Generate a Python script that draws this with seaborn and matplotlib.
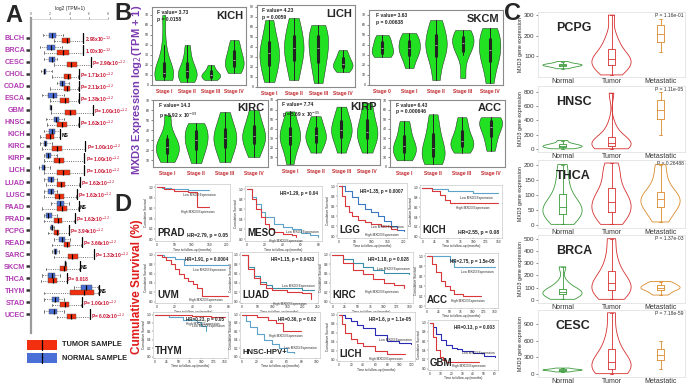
import numpy as np
import pandas as pd
import seaborn as sns
import matplotlib.pyplot as plt
from matplotlib.patches import Rectangle

W, H = 689, 385

sns.set_theme(style="white")
plt.rcParams['font.family'] = ['Liberation Sans', 'DejaVu Sans']

# A. five-number summaries (min, q1, median, q3, max), log2(TPM+1)
cancers_a = ["BLCH", "BRCA", "CESC", "CHOL", "COAD", "ESCA", "GBM", "HNSC", "KICH", "KIRC", "KIRP", "LICH",
             "LUAD", "LUSC", "PAAD", "PRAD", "PCPG", "READ", "SARC", "SKCM", "THCA", "THYM", "STAD", "UCEC"]
normal_a = [
    [1.2, 1.9, 2.2, 2.6, 3.3], [0.9, 1.7, 2.1, 2.5, 3.2], [1.4, 1.9, 2.2, 2.5, 2.7], [1.0, 1.3, 1.4, 1.6, 2.2],
    [2.7, 3.0, 3.2, 3.5, 3.9], [1.1, 1.8, 2.3, 2.7, 3.4], [2.0, 2.0, 2.05, 2.1, 2.1], [1.6, 2.4, 2.6, 2.9, 3.4],
    [1.4, 1.9, 2.2, 2.5, 3.0], [0.9, 1.3, 1.5, 1.7, 2.2], [1.3, 1.6, 1.8, 2.1, 2.7], [0.8, 1.1, 1.3, 1.5, 2.0],
    [1.4, 1.8, 2.1, 2.4, 2.7], [1.3, 1.8, 2.1, 2.4, 2.7], [2.1, 2.7, 3.0, 3.4, 3.9], [1.3, 1.6, 1.8, 2.2, 2.7],
    [2.0, 2.1, 2.2, 2.3, 2.4], [2.4, 2.9, 3.2, 3.5, 4.0], [2.2, 2.4, 2.5, 2.7, 2.9], [3.5, 3.5, 3.55, 3.6, 3.6],
    [1.1, 1.8, 2.2, 2.5, 3.0], [4.5, 5.2, 5.7, 6.3, 7.0], [1.4, 2.2, 2.5, 2.9, 3.4], [1.3, 1.9, 2.4, 2.7, 3.4],
]
tumor_a = [
    [2.4, 3.2, 3.7, 4.1, 5.4], [1.3, 2.7, 3.3, 3.9, 5.4], [2.4, 3.7, 4.2, 4.8, 6.2], [2.2, 3.4, 3.8, 4.2, 4.9],
    [2.0, 3.4, 3.7, 4.0, 4.9], [2.0, 3.0, 3.5, 3.9, 4.9], [2.1, 3.5, 4.1, 4.7, 6.4], [1.7, 2.7, 3.2, 3.7, 4.9],
    [0.9, 1.6, 2.0, 2.4, 3.0], [1.1, 2.2, 2.7, 3.2, 5.6], [1.4, 2.4, 2.9, 3.4, 5.5], [1.4, 2.7, 3.3, 4.0, 5.5],
    [1.6, 2.7, 3.1, 3.5, 5.0], [1.4, 2.5, 2.9, 3.4, 4.7], [1.1, 2.7, 3.2, 3.7, 4.9], [1.4, 2.4, 2.8, 3.2, 4.5],
    [1.8, 2.4, 2.7, 2.9, 3.9], [2.2, 3.4, 3.7, 4.0, 5.2], [2.4, 3.8, 4.3, 4.9, 6.5], [1.6, 3.0, 3.4, 3.7, 5.0],
    [1.0, 1.8, 2.3, 2.7, 3.7], [1.4, 4.0, 5.5, 6.5, 7.0], [2.2, 3.0, 3.5, 3.9, 5.2], [2.7, 3.7, 4.2, 4.7, 6.1],
]
pvals_a = ["2.98x10$^{-12}$", "1.00x10$^{-12}$", "P= 2.96x10$^{-12}$", "P= 1.71x10$^{-12}$", "P= 2.11x10$^{-12}$",
           "P= 1.38x10$^{-12}$", "P= 1.00x10$^{-12}$", "P= 1.62x10$^{-12}$", "NS", "P= 1.00x10$^{-12}$",
           "P= 1.00x10$^{-12}$", "P= 1.00x10$^{-12}$", "P= 1.62x10$^{-12}$", "P= 1.62x10$^{-12}$", "NS",
           "P= 1.62x10$^{-12}$", "P= 3.94x10$^{-12}$", "P= 3.66x10$^{-12}$", "P= 1.32x10$^{-12}$", "NS",
           "P= 0.018", "NS", "P= 1.00x10$^{-12}$", "P= 6.02x10$^{-12}$"]

# B. MXD3 by stage
stages4 = ["Stage I", "Stage II", "Stage III", "Stage IV"]
stages5 = ["Stage 0", "Stage I", "Stage II", "Stage III", "Stage IV"]
kich_b = [[5, 7, 9, 10, 12, 15, 22, 40, 70], [3, 6, 9, 12, 15, 20, 28, 40], [5, 7, 9, 10, 12, 15, 20], [12, 17, 21, 25, 30, 37, 45]]
lich_b = [[5, 18, 26, 34, 40, 50, 67], [7, 22, 32, 39, 46, 56, 69], [4, 20, 30, 39, 47, 55, 62], [15, 19, 21, 23, 27, 31, 37]]
skcm_b = [[28, 30, 34, 37, 41, 46, 50], [17, 28, 33, 37, 42, 47, 52], [5, 25, 34, 40, 45, 55, 65],
          [7, 30, 38, 42, 46, 50, 55], [2, 20, 28, 35, 43, 50, 57]]
kirc_b = [[8, 15, 20, 23, 28, 35, 55], [7, 18, 25, 30, 36, 42, 47], [8, 20, 27, 32, 38, 45, 58], [13, 24, 30, 34, 40, 48, 60]]
kirp_b = [[3, 20, 27, 32, 37, 45, 58], [15, 24, 29, 33, 37, 45, 53], [15, 28, 34, 39, 44, 52, 63], [15, 27, 33, 37, 44, 55, 67]]
acc_b = [[7, 13, 18, 22, 27, 38, 48], [3, 8, 14, 20, 28, 40, 55], [15, 20, 24, 27, 33, 42, 52], [17, 28, 36, 42, 47, 50, 52]]

# C. MXD3 gene expression, normal / tumor / metastatic
groups_c = ["Normal", "Tumor", "Metastatic"]
pcpg_c = [[40, 48, 52, 55, 57, 60, 62, 66, 75], [10, 30, 45, 60, 72, 80, 90, 105, 125, 160, 200, 300], [120, 170, 210, 250, 280]]
hnsc_c = [[5, 20, 30, 40, 50, 60, 80, 120], [5, 20, 35, 50, 60, 75, 90, 110, 150, 220, 350, 780], [200, 420, 540, 680, 800]]
thca_c = [[2, 20, 35, 45, 55, 65, 80, 110, 150, 200], [2, 25, 40, 55, 70, 85, 100, 130, 170, 205], [10, 40, 60, 75, 85, 95, 110, 150, 200]]
brca_c = [[5, 30, 45, 55, 62, 70, 90, 140, 270], [5, 40, 70, 100, 120, 150, 190, 250, 350, 500], [40, 70, 90, 100, 110, 130, 150]]
cesc_c = [[40, 60, 70, 75, 80, 90, 110], [10, 60, 100, 150, 220, 320, 450, 700, 1100], [100, 250, 350, 450, 600]]

# D. Kaplan-Meier curves (time in months, survival)
prad_low = ([0, 15, 40, 90, 150], [1.0, 0.98, 0.97, 0.95, 0.95])
prad_high = ([0, 20, 50, 90, 115, 150], [1.0, 0.97, 0.93, 0.9, 0.62, 0.62])
meso_low = ([0, 5, 10, 15, 20, 30, 40, 50, 60, 70, 80], [1, 0.85, 0.7, 0.55, 0.45, 0.3, 0.25, 0.2, 0.12, 0.08, 0.05])
meso_high = ([0, 5, 10, 15, 20, 25, 30, 40, 50, 55], [1, 0.8, 0.6, 0.45, 0.3, 0.2, 0.15, 0.1, 0.08, 0.05])
lgg_low = ([0, 20, 40, 60, 80, 100, 120, 140, 160, 180, 200], [1, 0.9, 0.78, 0.65, 0.55, 0.48, 0.4, 0.3, 0.2, 0.12, 0.1])
lgg_high = ([0, 10, 20, 30, 40, 60, 80, 100, 130, 160, 180], [1, 0.8, 0.6, 0.48, 0.4, 0.33, 0.28, 0.25, 0.2, 0.15, 0.12])
kich_low = ([0, 20, 50, 100, 150], [1, 0.97, 0.93, 0.9, 0.9])
kich_high = ([0, 20, 35, 45, 55, 150], [1, 0.93, 0.85, 0.75, 0.68, 0.68])
uvm_low = ([0, 8, 20, 30, 80], [1, 0.95, 0.9, 0.78, 0.78])
uvm_high = ([0, 5, 10, 15, 20, 25, 30, 35, 40, 45, 50, 80], [1, 0.95, 0.88, 0.8, 0.7, 0.6, 0.5, 0.45, 0.38, 0.3, 0.12, 0.12])
luad_low = ([0, 20, 40, 60, 80, 100, 150, 200, 240], [1, 0.75, 0.55, 0.42, 0.35, 0.3, 0.28, 0.25, 0.25])
luad_high = ([0, 20, 40, 60, 80, 100, 150, 200, 230], [1, 0.7, 0.5, 0.38, 0.3, 0.25, 0.2, 0.18, 0.05])
kirc_low = ([0, 20, 40, 60, 80, 100, 150], [1, 0.9, 0.82, 0.75, 0.68, 0.62, 0.6])
kirc_high = ([0, 20, 40, 60, 80, 100, 120, 140], [1, 0.82, 0.68, 0.58, 0.48, 0.4, 0.35, 0.3])
acc_low = ([0, 30, 50, 60, 150], [1, 1, 0.92, 0.78, 0.78])
acc_high = ([0, 10, 20, 30, 40, 50, 60, 80, 120], [1, 0.85, 0.68, 0.5, 0.4, 0.32, 0.25, 0.2, 0.2])
thym_low = ([0, 30, 60, 90, 100, 110], [1, 0.95, 0.88, 0.82, 0.72, 0.62])
thym_high = ([0, 40, 80, 120, 150], [1, 0.98, 0.96, 0.95, 0.95])
hnsc_low = ([0, 5, 10, 20, 30, 40, 50, 60, 70], [1, 0.85, 0.7, 0.55, 0.4, 0.3, 0.2, 0.12, 0.1])
hnsc_high = ([0, 20, 35, 45, 55, 80], [1, 0.95, 0.88, 0.8, 0.6, 0.6])
lich_low = ([0, 10, 20, 30, 40, 60, 80, 100, 120], [1, 0.92, 0.85, 0.78, 0.7, 0.55, 0.42, 0.38, 0.35])
lich_high = ([0, 5, 10, 20, 30, 40, 60, 80, 110], [1, 0.8, 0.6, 0.45, 0.38, 0.3, 0.2, 0.12, 0.12])
gbm_low = ([0, 3, 6, 10, 15, 20, 25, 30, 40, 50, 60], [1, 0.9, 0.75, 0.62, 0.52, 0.46, 0.42, 0.38, 0.33, 0.28, 0.25])
gbm_high = ([0, 3, 6, 9, 12, 15, 40, 45], [1, 0.7, 0.4, 0.25, 0.18, 0.14, 0.14, 0.14])

fig = plt.figure(figsize=(6.89, 3.85), dpi=100)


def px_axes(x0, y0, x1, y1):
    return fig.add_axes([x0 / W, 1 - y1 / H, (x1 - x0) / W, (y1 - y0) / H])


def ftext(x, y, s, **kw):
    fig.text(x / W, 1 - y / H, s, **kw)


# ---------------- A
rows = []
for c, nv, tv in zip(cancers_a, normal_a, tumor_a):
    rows += [(c, "Normal", v) for v in nv] + [(c, "Tumor", v) for v in tv]
df_a = pd.DataFrame(rows, columns=["cancer", "group", "value"])

ax = px_axes(31, 18.5, 108, 333.5)
sns.boxplot(data=df_a, x="value", y="cancer", hue="group", order=cancers_a, hue_order=["Normal", "Tumor"],
            palette={"Normal": "#4a6fd6", "Tumor": "#f2300f"}, saturation=1, whis=(0, 100), width=0.9, gap=0.1,
            linewidth=0.3, linecolor="#555555", showfliers=False, legend=False, ax=ax,
            medianprops=dict(color="black", linewidth=0.9),
            whiskerprops=dict(color="#444444", linestyle=":", linewidth=0.6),
            capprops=dict(color="#444444", linewidth=0.5))
for i, (nv, tv, p) in enumerate(zip(normal_a, tumor_a, pvals_a)):
    xb = max(nv[4], tv[4]) + 0.05
    ax.plot([xb, xb], [i - 0.42, i + 0.42], color="black", lw=0.9, clip_on=False)
    ax.text(xb + 0.12, i + 0.15, p, fontsize=3.5, color="black" if p == "NS" else "#c8102e",
            fontweight="bold", va="center", clip_on=False)
ax.set_xlim(0, 8)
ax.xaxis.tick_top()
ax.xaxis.set_label_position("top")
ax.set_xticks([0, 2, 4, 6, 8])
ax.tick_params(axis="x", labelsize=2.5, length=1.5, width=0.4, pad=0.5, colors="#555555")
ax.set_xlabel("log2 (TPM+1)", fontsize=3.5, labelpad=1)
ax.set_ylabel("")
ax.tick_params(axis="y", length=3.5, width=1.8, color="#333333", pad=0.8, left=True)
for lab in ax.get_yticklabels():
    lab.set_fontsize(5.2)
    lab.set_fontweight("bold")
    lab.set_color("#b13ab3")
for s in ["right", "bottom"]:
    ax.spines[s].set_visible(False)
ax.spines["left"].set_color("#9a9a9a")
ax.spines["left"].set_linewidth(1.6)
ax.spines["top"].set_color("#bbbbbb")
ax.spines["top"].set_linewidth(0.4)

for yy, col, lab in [(340, "#f2300f", "TUMOR SAMPLE"), (353, "#4a6fd6", "NORMAL SAMPLE")]:
    fig.add_artist(Rectangle((27 / W, 1 - (yy + 10) / H), 30 / W, 10 / H, transform=fig.transFigure,
                             facecolor=col, edgecolor="none"))
    fig.add_artist(plt.Line2D([42 / W, 42 / W], [1 - (yy + 10) / H, 1 - yy / H], transform=fig.transFigure,
                              color="black", lw=0.9))
    ftext(62, yy + 5, lab, fontsize=5.3, fontweight="bold", color="#222222", va="center")

ftext(5, 4, "A", fontsize=17, fontweight="bold", va="top")

# ---------------- B
ftext(114, 2, "B", fontsize=17, fontweight="bold", va="top")
ftext(137, 90, "MXD3 Expression log$_2$(TPM + 1)", fontsize=8, fontweight="bold", color="#7a3ab0",
      rotation=90, va="center", ha="center")

panels_b = [
    ("KICH", kich_b, stages4, "F value= 3.73", "p = 0.0158", (152, 7, 246, 85), (0, 78)),
    ("LICH", lich_b, stages4, "F value= 4.23", "p = 0.0059", (257, 5, 355, 87), (0, 82)),
    ("SKCM", skcm_b, stages5, "F value= 3.63", "p = 0.00638", (369, 10, 503, 85), (0, 75)),
    ("KIRC", kirc_b, stages4, "F value= 14.3", "p = 5.92 x 10$^{-09}$", (153, 100, 268, 167), (3, 70)),
    ("KIRP", kirp_b, stages4, "F value= 7.74", "p = 5.69 x 10$^{-05}$", (277, 99, 380, 165), (2, 71)),
    ("ACC", acc_b, stages4, "F value= 6.43", "p = 0.000646", (390, 100, 505, 167), (0, 70)),
]
for name, vals, labs, fv, pv, box, ylim in panels_b:
    df = pd.DataFrame([(l, v) for l, vs in zip(labs, vals) for v in vs], columns=["stage", "value"])
    ax = px_axes(*box)
    sns.violinplot(data=df, x="stage", y="value", order=labs, color="#22e022", saturation=1,
                   linecolor="#222222", linewidth=0.35, inner="box", cut=0, density_norm="width",
                   width=0.8, bw_adjust=0.9, inner_kws=dict(box_width=2.2, whis_width=0.7), ax=ax)
    ax.set_ylim(*ylim)
    ax.set_xlabel("")
    ax.set_ylabel("")
    ax.tick_params(axis="x", length=0, pad=3)
    ax.tick_params(axis="y", length=1.5, width=0.4, labelsize=2.5, pad=0.5, left=True)
    for lab in ax.get_xticklabels():
        lab.set_fontsize(3.6)
        lab.set_fontweight("bold")
        lab.set_color("#c0282d")
    for s in ax.spines.values():
        s.set_color("#8a8a8a")
        s.set_linewidth(0.8)
    ax.text(0.97, 0.95, name, transform=ax.transAxes, ha="right", va="top", fontsize=8, fontweight="bold")
    ax.text(0.05, 0.96, fv + "\n" + pv, transform=ax.transAxes, ha="left", va="top", fontsize=3.6,
            fontweight="bold", linespacing=1.4)

# ---------------- C
ftext(504, 2, "C", fontsize=17, fontweight="bold", va="top")
pal_c = {"Normal": "#3c9a3c", "Tumor": "#d62f2f", "Metastatic": "#d98a2b"}
panels_c = [
    ("PCPG", pcpg_c, [0, 1], "P = 1.16e-01", (12, 77), (0, 315), [100, 200, 300]),
    ("HNSC", hnsc_c, [0, 1], "P = 1.11e-05", (86, 152), (-40, 880), [0, 200, 400, 600, 800]),
    ("THCA", thca_c, [0, 1, 2], "P = 0.26488", (160, 228), (-10, 215), [0, 50, 100, 150, 200]),
    ("BRCA", brca_c, [0, 1, 2], "P = 1.37e-03", (235, 303), (-25, 530), [0, 100, 200, 300, 400, 500]),
    ("CESC", cesc_c, [0, 1], "P = 7.18e-59", (310, 377), (-50, 1150), [0, 300, 600, 900]),
]
for name, vals, vio, pv, (y0, y1), ylim, yt in panels_c:
    df = pd.DataFrame([(g, v) for g, vs in zip(groups_c, vals) for v in vs], columns=["grp", "val"])
    ax = px_axes(538, y0, 685, y1)
    dv = df[df["grp"].isin([groups_c[i] for i in vio])]
    sns.violinplot(data=dv, x="grp", y="val", order=groups_c, hue="grp", hue_order=groups_c, palette=pal_c,
                   fill=False, inner=None, cut=0, density_norm="width", width=0.8, linewidth=0.6,
                   bw_adjust=0.8, legend=False, ax=ax)
    sns.boxplot(data=df, x="grp", y="val", order=groups_c, hue="grp", hue_order=groups_c, palette=pal_c,
                fill=False, width=0.14, showfliers=False, whis=(0, 100), linewidth=0.6, legend=False, ax=ax)
    ax.set_ylim(*ylim)
    ax.set_yticks(yt)
    ax.set_xlabel("")
    ax.set_ylabel("MXD3 gene expression", fontsize=3.8, labelpad=1)
    ax.tick_params(axis="y", labelsize=4.5, length=1.5, width=0.4, pad=1, left=True, colors="#333333")
    ax.tick_params(axis="x", labelsize=5, length=0, pad=1, colors="#333333")
    for s in ax.spines.values():
        s.set_color("#dddddd")
        s.set_linewidth(0.5)
    ax.text(0.12, 0.85, name, transform=ax.transAxes, ha="left", va="top", fontsize=9, fontweight="bold")
    ax.text(0.99, 0.99, pv, transform=ax.transAxes, ha="right", va="top", fontsize=3.6, color="#333333")

# ---------------- D
ftext(114, 193, "D", fontsize=17, fontweight="bold", va="top")
ftext(137, 287, "Cumulative Survival (%)", fontsize=8.5, fontweight="bold", color="#e01b1b",
      rotation=90, va="center", ha="center")

panels_d = [
    ("PRAD", prad_low, prad_high, "HR=2.79, p = 0.05", "br", (155, 184, 230, 241), 200, "#5ba3c9"),
    ("MESO", meso_low, meso_high, "HR=1.29, p = 0.04", "tr", (245, 186, 322, 241), 80, "#5ba3c9"),
    ("LGG", lgg_low, lgg_high, "HR=1.35, p = 0.0007", "tr", (337, 183, 407, 238), 200, "#3a78c2"),
    ("KICH", kich_low, kich_high, "HR=2.55, p = 0.08", "br", (420, 185, 502, 238), 150, "#5ba3c9"),
    ("UVM", uvm_low, uvm_high, "HR=1.91, p = 0.0004", "tr", (155, 252, 232, 303), 80, "#5ba3c9"),
    ("LUAD", luad_low, luad_high, "HR=1.15, p = 0.0433", "tr", (240, 252, 318, 303), 240, "#3a8fa8"),
    ("KIRC", kirc_low, kirc_high, "HR=1.18, p = 0.028", "tr", (330, 252, 413, 303), 150, "#3a8fa8"),
    ("ACC", acc_low, acc_high, "HR=2.75, p = 1.5e-05", "tr", (425, 253, 498, 308), 150, "#5ba3c9"),
    ("THYM", thym_low, thym_high, "HR=0.23, p = 0.05", "tr", (153, 312, 228, 358), 150, "#5ba3c9"),
    ("HNSC-HPV+", hnsc_low, hnsc_high, "HR=0.36, p = 0.02", "tr", (240, 312, 320, 358), 100, "#5ba3c9"),
    ("LICH", lich_low, lich_high, "HR=1.6, p = 1.1e-05", "tr", (337, 312, 415, 361), 120, "#2a2ab5"),
    ("GBM", gbm_low, gbm_high, "HR=0.13, p = 0.003", "tr", (428, 320, 498, 370), 60, "#2a2ab5"),
]
for name, low, high, hr, pos, box, xmax, lowcol in panels_d:
    ax = px_axes(*box)
    sns.lineplot(x=low[0], y=low[1], drawstyle="steps-post", color=lowcol, linewidth=0.8, ax=ax)
    sns.lineplot(x=high[0], y=high[1], drawstyle="steps-post", color="#d9383a", linewidth=0.8, ax=ax)
    if low[1][-1] < 0.7:
        ax.text(xmax, low[1][-1] + 0.05, "Low MXD3 Expression", fontsize=2.3, ha="right", va="bottom")
    else:
        ax.text(low[0][-1] * 0.5, low[1][-1] - 0.06, "Low MXD3 Expression", fontsize=2.3, ha="left", va="top")
    hi_y = high[1][-1] - 0.05 if high[1][-1] < 0.85 else high[1][-1] - 0.12
    ax.text(high[0][-1] * 0.45, hi_y, "High MXD3 Expression", fontsize=2.3, ha="left", va="top")
    ax.set_xlim(-xmax * 0.03, xmax * 1.05)
    ax.set_ylim(-0.03, 1.06)
    ax.set_yticks([0, 0.2, 0.4, 0.6, 0.8, 1.0])
    ax.tick_params(labelsize=2.3, length=1, width=0.3, pad=0.5, left=True, bottom=True)
    ax.set_xlabel("Time to follow-up (months)", fontsize=2.3, labelpad=0.3)
    ax.set_ylabel("Cumulative Survival", fontsize=2.3, labelpad=0.5)
    for s in ax.spines.values():
        s.set_color("#bbbbbb")
        s.set_linewidth(0.4)
    ax.text(0.03, 0.05, name, transform=ax.transAxes, ha="left", va="bottom",
            fontsize=5.6 if len(name) > 5 else 7, fontweight="bold", color="#222222")
    if pos == "br":
        ax.text(0.97, 0.05, hr, transform=ax.transAxes, ha="right", va="bottom", fontsize=3.6, fontweight="bold")
    else:
        ax.text(0.95, 0.9, hr, transform=ax.transAxes, ha="right", va="top", fontsize=3.3, fontweight="bold")

fig.savefig("out.png", dpi=100)
